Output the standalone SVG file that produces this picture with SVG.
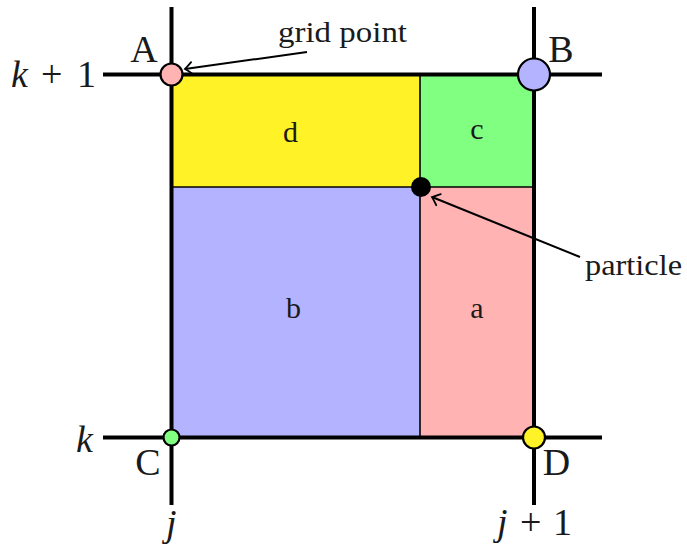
<svg xmlns="http://www.w3.org/2000/svg" width="687" height="548" viewBox="0 0 687 548">
<style>
text{font-family:"Liberation Serif","Times New Roman",serif;fill:#1a1a1a}
.big{font-size:38px}
.it{font-style:italic}
.lab{font-size:30px}
.grid{stroke:#000;stroke-width:4;fill:none}
.inner{stroke:#000;stroke-width:1.6;fill:none}
.pt{stroke:#000;stroke-width:2.2}
.arr{stroke:#000;stroke-width:2;fill:none;marker-end:url(#ah)}
</style>
<defs>
<marker id="ah" viewBox="-10 -8 12 16" refX="0" refY="0" markerWidth="12" markerHeight="16" markerUnits="userSpaceOnUse" orient="auto">
<path d="M-7,-6 Q-2,-1.5 0,0 Q-2,1.5 -7,6" fill="none" stroke="#000" stroke-width="1.8" stroke-linecap="round"/>
</marker>
</defs>
<g id="cell-d"><rect x="171" y="74" width="249" height="113" fill="#FFF226"/><text class="lab" x="290.5" y="142" text-anchor="middle">d</text></g>
<g id="cell-c"><rect x="420" y="74" width="114" height="113" fill="#80FF80"/><text class="lab" x="477" y="139" text-anchor="middle">c</text></g>
<g id="cell-b"><rect x="171" y="187" width="249" height="251" fill="#B3B3FF"/><text class="lab" x="293.5" y="318" text-anchor="middle">b</text></g>
<g id="cell-a"><rect x="420" y="187" width="114" height="251" fill="#FFB3B3"/><text class="lab" x="477" y="318" text-anchor="middle">a</text></g>
<g id="gridlines">
<line class="inner" x1="420" y1="74" x2="420" y2="438"/>
<line class="inner" x1="171" y1="187" x2="534" y2="187"/>
<line class="grid" x1="171.5" y1="7" x2="171.5" y2="505"/>
<line class="grid" x1="534" y1="7" x2="534" y2="505"/>
<line class="grid" x1="103" y1="74.5" x2="602" y2="74.5"/>
<line class="grid" x1="103" y1="437.5" x2="602" y2="437.5"/>
</g>
<g id="axis-labels">
<text class="big it" x="11" y="87">k</text><text class="big" x="41" y="87">+</text><text class="big" x="77" y="87">1</text>
<text class="big it" x="76" y="452">k</text>
<text class="big it" x="166" y="536">j</text>
<text class="big it" x="497" y="535">j</text><text class="big" x="520" y="535">+</text><text class="big" x="553" y="535">1</text>
</g>
<g id="node-A"><circle class="pt" cx="171.5" cy="74.5" r="11" fill="#FFB3B3"/><text class="big" x="144" y="62" text-anchor="middle">A</text></g>
<g id="node-B"><circle class="pt" cx="534" cy="74.5" r="16" fill="#B3B3FF"/><text class="big" x="561" y="62" text-anchor="middle">B</text></g>
<g id="node-C"><circle class="pt" cx="171.5" cy="437.5" r="8" fill="#80FF80"/><text class="big" x="148" y="475" text-anchor="middle">C</text></g>
<g id="node-D"><circle class="pt" cx="534" cy="437.5" r="11" fill="#FFF226"/><text class="big" x="556.5" y="475" text-anchor="middle">D</text></g>
<g id="particle"><circle cx="421" cy="187" r="10" fill="#000"/></g>
<g id="label-grid-point"><text class="lab" x="278" y="42" textLength="129" lengthAdjust="spacingAndGlyphs">grid point</text></g>
<g id="label-particle"><text class="lab" x="585" y="275" textLength="97" lengthAdjust="spacingAndGlyphs">particle</text></g>
<g id="connectors">
<line class="arr" x1="307" y1="52" x2="185" y2="69"/>
<line class="arr" x1="580" y1="257" x2="432" y2="197"/>
</g>
</svg>
